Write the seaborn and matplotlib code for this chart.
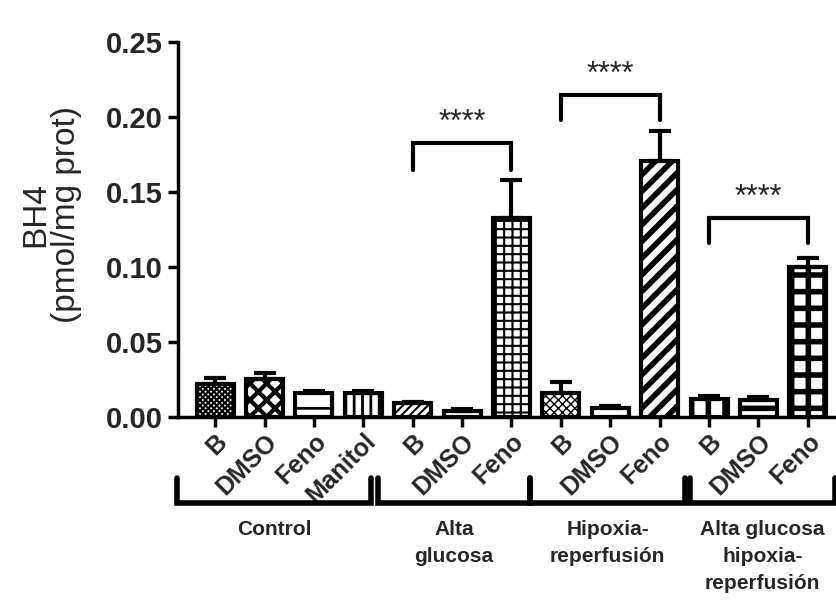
import matplotlib
matplotlib.use("Agg")
import matplotlib.pyplot as plt
import matplotlib.transforms as mtransforms
import numpy as np
import pandas as pd
import seaborn as sns

sns.set_style("ticks")
plt.rcParams['font.family'] = ['Liberation Sans', 'DejaVu Sans']

# data
labels = ["B", "DMSO", "Feno", "Manitol",
          "B", "DMSO", "Feno",
          "B", "DMSO", "Feno",
          "B", "DMSO", "Feno"]
values = [0.022, 0.025, 0.016, 0.016,
          0.009, 0.004, 0.133,
          0.016, 0.006, 0.171,
          0.012, 0.011, 0.100]
errors = [0.004, 0.004, 0.001, 0.001,
          0.001, 0.001, 0.025,
          0.007, 0.001, 0.020,
          0.002, 0.002, 0.006]
hatches = ["xxxxxx", "xx", "-", "||",
           "////", "", "++",
           "xxxx", "", "//",
           "|", "-", "+"]
hatch_lw = [1.5, 3, 2, 2, 1.5, 1, 1.5, 1, 1, 4, 4, 4, 4]
groups = ["Control", "Alta\nglucosa", "Hipoxia-\nreperfusión",
          "Alta glucosa\nhipoxia-\nreperfusión"]
group_spans = [(-0.77, 3.16), (3.3, 6.38), (6.38, 9.51), (9.62, 12.55)]
# significance: (bar from, bar to, bracket top, leg bottom)
sig = [(4, 6, 0.183, 0.165), (7, 9, 0.215, 0.198), (10, 12, 0.133, 0.116)]

df = pd.DataFrame({"pos": [str(i) for i in range(len(values))], "value": values})

fig = plt.figure(figsize=(8.36, 6.13), dpi=100)
ax = fig.add_axes([0.213, 0.320, 0.787, 0.611])

sns.barplot(data=df, x="pos", y="value", color="white", edgecolor="black",
            linewidth=3, width=0.75, errorbar=None, ax=ax)
for p, h, w in zip(ax.patches, hatches, hatch_lw):
    p.set_hatch(h)
    p.set_facecolor("white")
    if hasattr(p, "set_hatch_linewidth"):
        p.set_hatch_linewidth(w)

x = np.arange(len(values))
ax.errorbar(x, values, yerr=[np.zeros(len(errors)), errors], fmt="none",
            ecolor="black", elinewidth=3, capsize=8, capthick=3, zorder=1)

ax.set_xlim(-0.75, 12.57)
ax.set_ylim(0, 0.25)
ax.set_yticks(np.arange(0, 0.251, 0.05))
ax.set_yticklabels([f"{t:.2f}" for t in np.arange(0, 0.251, 0.05)],
                   fontsize=21, fontweight="bold")
ax.set_xticks(x)
ax.set_xticklabels(labels, rotation=45, ha="right", rotation_mode="anchor",
                   fontsize=18, fontweight="bold")
ax.tick_params(axis="both", width=2.5, length=7, color="black")
ax.tick_params(axis="x", pad=2)
ax.tick_params(axis="y", pad=4)
ax.set_xlabel("")
ax.set_ylabel("BH4\n(pmol/mg prot)", fontsize=24, linespacing=1.0)
ax.yaxis.set_label_coords(-0.146, 0.54)
sns.despine(ax=ax)
for s in ["left", "bottom"]:
    ax.spines[s].set_linewidth(2.5)
    ax.spines[s].set_color("black")

# significance brackets
for a, b, top, leg in sig:
    ax.plot([a, a, b, b], [leg, top, top, leg], color="black", lw=3,
            solid_joinstyle="miter", clip_on=False)
    ax.text((a + b) / 2, top + 0.003, "****", ha="center", va="bottom",
            fontsize=22)

# group brackets below the axis
trans = mtransforms.blended_transform_factory(ax.transData, ax.transAxes)
for (l, r), name in zip(group_spans, groups):
    ax.plot([l, l, r, r], [-0.163, -0.229, -0.229, -0.163], color="black",
            lw=4, transform=trans, clip_on=False, solid_joinstyle="miter")
    ax.text((l + r) / 2, -0.275, name, ha="center", va="top", fontsize=15,
            fontweight="bold", linespacing=1.55, transform=trans)

fig.savefig("out.png", dpi=100)
